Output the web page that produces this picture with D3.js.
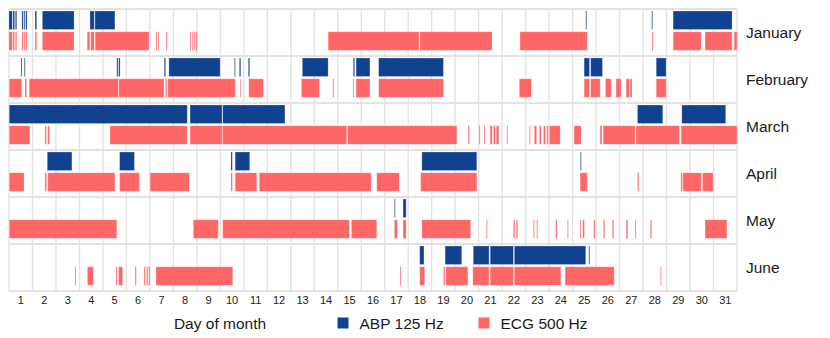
<!DOCTYPE html>
<html>
<head>
<meta charset="utf-8">
<script src="https://cdn.jsdelivr.net/npm/d3@7"></script>
<style>
  body { margin: 0; background: #fff; }
  text { font-family: "Liberation Sans", Arial, sans-serif; fill: #1a1a1a; }
</style>
</head>
<body>
<div class="chart"></div>
<script>
// months shown as rows, recordings per series as [start, end] in day-of-month units
let months = ['January', 'February', 'March', 'April', 'May', 'June'],
    series = ['ABP 125 Hz', 'ECG 500 Hz'],
    days = d3.range(1, 32),
    abpRanges = [
      [[1.0,1.14],[1.17,1.24],[1.27,1.33],[1.55,1.61],[1.64,1.68],[1.71,1.77],[2.11,2.18],[2.42,3.77],
       [4.45,4.63],[4.66,5.51],[25.56,25.6],[28.37,28.41],[29.28,31.79]],
      [[1.51,1.55],[1.65,1.69],[5.59,5.64],[5.67,5.73],[7.61,7.67],[7.81,9.99],[10.6,10.64],[10.81,10.87],
       [11.19,11.25],[13.49,14.59],[15.66,15.72],[15.78,16.37],[16.74,19.5],[25.49,25.72],[25.77,26.27],
       [28.56,28.98]],
      [[1.01,8.59],[8.71,10.07],[10.1,12.75],[27.76,28.84],[29.65,31.52]],
      [[2.63,3.68],[5.71,6.34],[10.45,10.51],[10.63,11.25],[18.58,20.92],[25.33,25.37]],
      [[17.41,17.45],[17.78,17.91]],
      [[18.49,18.67],[19.57,20.28],[20.77,21.44],[21.49,22.48],[22.52,25.56],[25.69,25.73]]
    ],
    ecgRanges = [
      [[1.0,1.14],[1.17,1.24],[1.27,1.33],[1.55,1.61],[1.64,1.68],[1.71,1.77],[2.11,2.18],[2.42,3.77],
       [4.33,4.44],[4.48,4.63],[4.67,6.96],[7.26,7.3],[7.35,7.39],[7.69,7.73],[8.71,8.75],[8.8,8.84],
       [8.88,8.92],[8.96,9.01],[14.59,18.46],[18.5,21.57],[22.76,25.62],[28.38,28.42],[29.28,30.47],
       [30.64,31.79],[31.88,32.0]],
      [[1.01,1.54],[1.68,1.75],[1.86,5.66],[5.68,7.6],[7.66,7.72],[7.76,10.63],[10.84,10.87],[11.21,11.83],
       [13.45,14.22],[14.79,14.83],[15.65,15.69],[15.78,16.37],[16.74,19.5],[22.73,23.24],[25.49,25.72],
       [25.77,26.17],[26.4,26.64],[26.85,27.06],[27.28,27.42],[27.45,27.53],[28.56,28.98]],
      [[1.01,1.89],[2.53,2.59],[2.65,2.72],[5.3,8.59],[8.71,10.07],[10.09,15.38],[15.42,20.07],[20.55,20.6],
       [21.02,21.06],[21.23,21.27],[21.49,21.58],[21.63,21.71],[21.75,21.86],[22.2,22.24],[23.16,23.2],
       [23.37,23.47],[23.58,23.66],[23.76,23.84],[23.9,23.96],[24.01,24.47],[25.06,25.36],[26.17,26.25],
       [26.3,27.66],[27.7,29.55],[29.62,32.0]],
      [[1.01,1.64],[2.53,2.6],[2.65,5.51],[5.71,6.55],[7.01,8.68],[10.45,10.51],[10.63,11.55],[11.66,16.42],
       [16.66,17.62],[18.53,20.92],[25.32,25.62],[27.76,27.82],[29.61,29.68],[29.7,30.48],[30.53,30.98]],
      [[1.01,5.59],[8.85,9.91],[10.1,15.49],[15.58,16.66],[17.41,17.54],[17.78,17.91],[18.58,20.66],
       [21.33,21.37],[22.48,22.54],[22.6,22.66],[23.33,23.37],[23.47,23.51],[24.28,24.34],[24.78,24.82],
       [25.32,25.36],[25.43,25.5],[25.9,25.96],[26.31,26.37],[26.69,26.75],[27.28,27.35],[27.66,27.7],
       [28.31,28.37],[30.64,31.57]],
      [[3.81,3.85],[4.34,4.59],[5.56,5.61],[5.67,5.84],[6.37,6.42],[6.75,6.8],[6.86,6.91],[6.95,7.0],
       [7.26,10.53],[17.65,17.69],[18.49,18.7],[19.5,19.56],[19.6,20.54],[20.75,21.44],[21.49,22.48],
       [22.52,24.5],[24.68,26.77],[28.74,28.78]]
    ],
    colors = ['#11428f', '#ff6666'];

function createChart(){
    let width = 830,
        height = 338,
        plot = {l: 9, r: 737, t: 9, b: 291},
        svg = null;

    svg = d3.select('.chart')
            .append('svg')
            .attr('width', width)
            .attr('height', height);

    // continuous day scale for bars and grid
    let scale_x = d3.scaleLinear().domain([1, 32]).range([plot.l, plot.r]);
    // band scale for day labels
    let scale_day = d3.scaleBand().domain(days).range([plot.l, plot.r]);
    // rows (months) and sub rows (series)
    let scale_row = d3.scaleBand().domain(months).range([plot.t, plot.b]);
    let scale_sub = d3.scaleBand().domain(series).range([2, scale_row.bandwidth() - 5.7]).paddingInner(0.11);

    // vertical grid
    svg.append('g')
        .selectAll('line')
        .data(d3.range(1, 33))
        .enter()
        .append('line')
        .attr('x1', d => scale_x(d))
        .attr('x2', d => scale_x(d))
        .attr('y1', plot.t)
        .attr('y2', plot.b)
        .attr('stroke', '#e3e3e3')
        .attr('stroke-width', 1.4);

    // horizontal row borders
    svg.append('g')
        .selectAll('line')
        .data(d3.range(0, months.length + 1))
        .enter()
        .append('line')
        .attr('x1', plot.l)
        .attr('x2', plot.r)
        .attr('y1', i => plot.t + i * scale_row.step())
        .attr('y2', i => plot.t + i * scale_row.step())
        .attr('stroke', '#e3e3e3')
        .attr('stroke-width', 2);

    // bars
    let bars = [];
    months.forEach((m, mi) => {
        abpRanges[mi].forEach(r => bars.push({m: m, s: series[0], c: colors[0], r: r}));
        ecgRanges[mi].forEach(r => bars.push({m: m, s: series[1], c: colors[1], r: r}));
    });

    svg.append('g')
        .selectAll('rect')
        .data(bars)
        .enter()
        .append('rect')
        .attr('x', d => scale_x(d.r[0]))
        .attr('width', d => Math.max(0.8, scale_x(d.r[1]) - scale_x(d.r[0])))
        .attr('y', d => scale_row(d.m) + scale_sub(d.s))
        .attr('height', scale_sub.bandwidth())
        .attr('fill', d => d.c)
        .attr('stroke', '#fff')
        .attr('stroke-opacity', 0.3)
        .attr('stroke-width', 0.8);

    // month labels on the right
    svg.append('g')
        .selectAll('text')
        .data(months)
        .enter()
        .append('text')
        .attr('x', 746)
        .attr('y', m => scale_row(m) + scale_row.bandwidth() / 2)
        .attr('dy', '0.35em')
        .style('font-size', '15.5px')
        .text(m => m);

    // day axis
    let ax = svg.append('g')
        .attr('transform', `translate(0, ${plot.b})`)
        .call(d3.axisBottom(scale_day).tickSize(0).tickPadding(5));
    ax.select('.domain').remove();
    ax.selectAll('text')
        .style('font-size', '11px')
        .style('font-family', '"Liberation Sans", Arial, sans-serif')
        .attr('fill', '#1a1a1a');

    // axis title
    svg.append('text')
        .attr('text-anchor', 'middle')
        .attr('x', 220)
        .attr('y', 328.5)
        .style('font-size', '15.5px')
        .text('Day of month');

    // legend
    let legX = [337.5, 478.5];
    let leg = svg.append('g')
        .selectAll('g')
        .data(series)
        .enter()
        .append('g')
        .attr('transform', (s, i) => `translate(${legX[i]}, 317.5)`);
    leg.append('rect')
        .attr('width', 11)
        .attr('height', 11)
        .attr('fill', (s, i) => colors[i]);
    leg.append('text')
        .attr('x', 22)
        .attr('y', 11)
        .style('font-size', '15.5px')
        .text(s => s);
}

createChart();
</script>
</body>
</html>
